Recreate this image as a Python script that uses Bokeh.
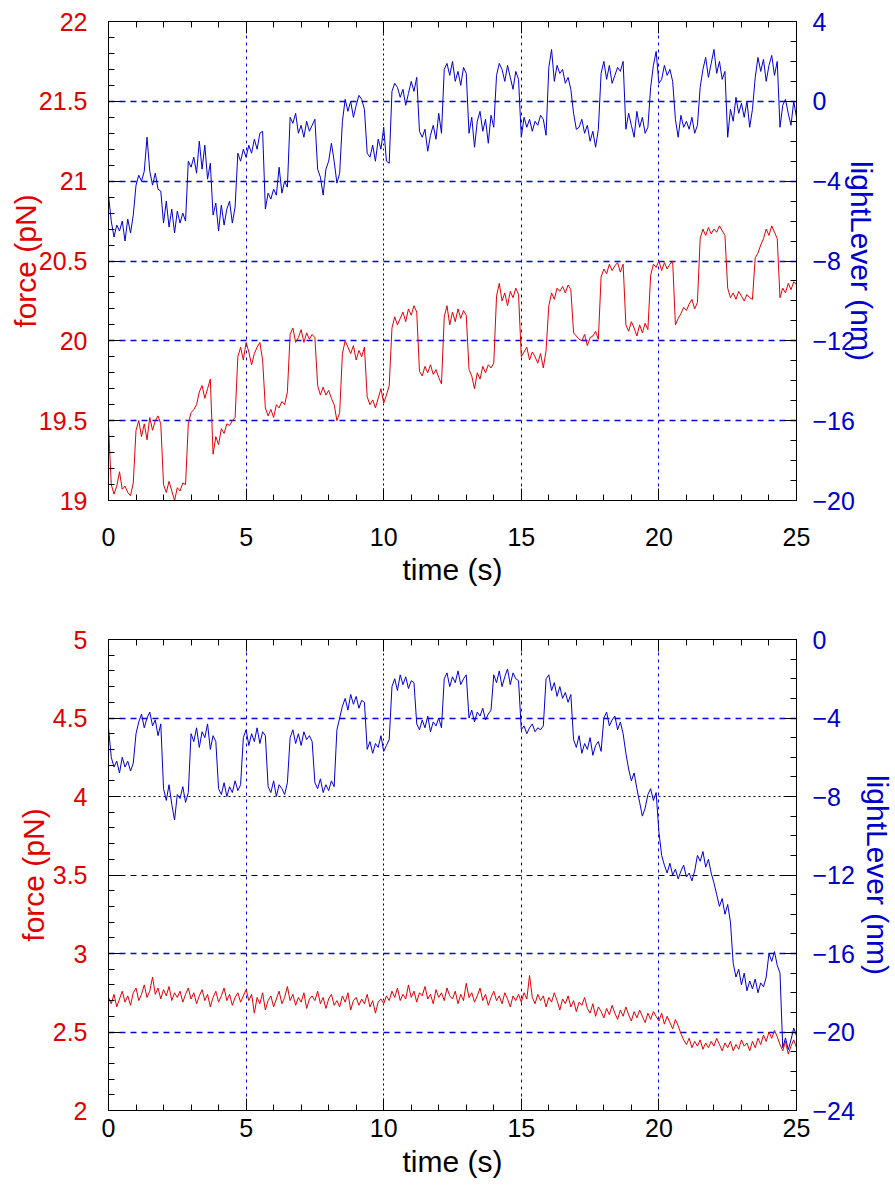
from bokeh.plotting import figure
from bokeh.models import (Range1d, LinearAxis, SingleIntervalTicker, FixedTicker,
                          Grid, CustomJSTickFormatter)
from bokeh.layouts import column
from bokeh.embed import file_html
from bokeh.resources import INLINE

# ---------------- data (sampled every 0.1 s) ----------------
SAMPLE_DT = 0.1

top_light = [
    -4.7, -6.0, -6.8, -6.2, -6.5, -6.0, -7.0, -5.9, -6.6, -5.7,
    -4.2, -3.7, -4.0, -3.5, -1.8, -3.5, -4.2, -3.6, -4.4, -4.5,
    -6.1, -5.0, -6.3, -5.4, -6.6, -5.5, -6.1, -5.6, -6.0,
    -3.0, -3.3, -2.8, -3.6, -2.0, -3.4, -2.2, -3.9, -3.1,
    -5.7, -5.1, -6.5, -5.2, -6.2, -5.4, -5.0, -6.1, -5.3,
    -2.6, -3.0, -2.4, -2.8, -2.2, -2.6, -1.9, -2.4, -1.6, -1.5,
    -5.4, -4.6, -4.9, -4.4, -4.7, -3.3, -4.6, -4.0, -4.3,
    -0.8, -1.1, -0.6, -1.6, -1.2, -1.8, -1.0, -1.5, -1.2, -0.9,
    -3.4, -3.8, -4.7, -3.4, -3.0, -2.1, -3.0, -4.1, -3.6,
    -1.0, 0.1, -0.5, 0.0, -0.8, -0.2, 0.3, 0.1, -0.4,
    -2.6, -2.8, -2.2, -3.0, -1.9, -2.4, -1.3, -3.0, -3.1,
    0.5, 0.9, 0.7, 0.2, 0.6, -0.2, 0.4, 1.0, 0.5, 1.2,
    -1.5, -1.8, -1.4, -2.5, -1.7, -1.2, -1.9, -0.6, -1.6,
    1.6, 1.9, 1.3, 2.0, 1.0, 1.5, 0.8, 1.7, 1.4,
    -1.6, -0.8, -2.3, -1.0, -0.5, -1.5, -0.9, -2.1, -0.7, -1.3,
    1.3, 1.9, 1.6, 1.0, 1.8, 1.2, 0.6, 1.5, 1.1,
    -1.8, -0.8, -1.3, -0.9, -1.5, -1.0, -1.2, -0.7, -0.9, -1.7,
    1.7, 2.6, 1.0, 1.8, 1.4, 1.6, 0.9, 1.2, 0.6,
    -0.6, -1.4, -1.3, -0.9, -1.6, -1.2, -2.0, -1.5, -2.3, -1.4,
    1.4, 2.0, 1.1, 1.8, 0.9, 1.3, 1.7, 1.5, 2.0,
    -1.4, -0.6, -1.2, -1.8, -0.5, -1.3, -0.8, -1.6, -1.3,
    0.7, 1.8, 2.5, 0.9, 1.1, 1.8, 1.3, 1.6, 1.0,
    -0.9, -1.8, -0.7, -1.3, -1.0, -1.4, -0.8, -1.6, -1.2,
    0.7, 1.6, 2.2, 1.2, 1.9, 2.6, 1.4, 2.0, 1.1, 1.5,
    -1.8, -0.4, -1.0, 0.2, -0.6, -0.1, -0.8, 0.0, -1.3, -0.4,
    1.2, 2.2, 1.5, 2.1, 1.0, 1.8, 2.3, 1.3, 2.0,
    -1.3, -0.2, 0.1, -0.6, -1.2, 0.0, -0.8,
]

top_force = [
    19.47, 19.10, 19.04, 19.09, 19.18, 19.07, 19.09, 19.05, 19.03, 19.11,
    19.44, 19.50, 19.40, 19.48, 19.38, 19.52, 19.44, 19.50, 19.53, 19.48,
    19.10, 19.05, 19.12, 19.06, 19.00, 19.08, 19.06, 19.11, 19.10,
    19.48, 19.55, 19.57, 19.60, 19.68, 19.72, 19.64, 19.70, 19.76,
    19.29, 19.40, 19.35, 19.45, 19.42, 19.48, 19.47, 19.50, 19.52,
    19.90, 19.96, 19.88, 19.99, 19.93, 19.85, 19.92, 19.96, 19.99, 19.88,
    19.58, 19.53, 19.57, 19.52, 19.60, 19.58, 19.62, 19.60, 19.68,
    20.04, 20.08, 19.99, 20.02, 20.07, 19.99, 20.05, 20.01, 20.04, 20.02,
    19.72, 19.66, 19.71, 19.66, 19.69, 19.64, 19.60, 19.50, 19.55,
    19.92, 20.00, 19.96, 19.92, 19.97, 19.88, 19.94, 19.90, 19.96,
    19.65, 19.60, 19.63, 19.58, 19.64, 19.70, 19.61, 19.66, 19.72,
    20.08, 20.15, 20.10, 20.14, 20.18, 20.12, 20.20, 20.16, 20.22, 20.18,
    19.81, 19.78, 19.84, 19.80, 19.85, 19.79, 19.82, 19.77, 19.73,
    20.15, 20.22, 20.10, 20.18, 20.12, 20.20, 20.14, 20.19, 20.16,
    19.82, 19.78, 19.70, 19.80, 19.76, 19.84, 19.80, 19.85, 19.83, 19.86,
    20.28, 20.36, 20.25, 20.30, 20.22, 20.31, 20.27, 20.33, 20.29,
    19.90, 19.93, 19.96, 19.88, 19.93, 19.90, 19.86, 19.92, 19.83, 19.94,
    20.22, 20.30, 20.26, 20.33, 20.31, 20.34, 20.30, 20.35, 20.32,
    20.05, 20.03, 20.01, 20.00, 20.04, 19.97, 20.02, 20.03, 20.06, 20.01,
    20.40, 20.45, 20.42, 20.48, 20.44, 20.47, 20.49, 20.43, 20.48,
    20.10, 20.06, 20.12, 20.08, 20.03, 20.10, 20.05, 20.11, 20.07,
    20.41, 20.48, 20.46, 20.50, 20.44, 20.49, 20.45, 20.48, 20.50,
    20.10, 20.14, 20.17, 20.21, 20.19, 20.23, 20.26, 20.20, 20.24,
    20.64, 20.70, 20.66, 20.71, 20.67, 20.70, 20.68, 20.72, 20.69, 20.66,
    20.33, 20.27, 20.30, 20.26, 20.31, 20.28, 20.25, 20.29, 20.27, 20.26,
    20.52, 20.55, 20.60, 20.64, 20.70, 20.66, 20.72, 20.68, 20.64,
    20.27, 20.33, 20.30, 20.36, 20.32, 20.37, 20.35,
]

bottom_light = [
    -4.5, -6.0, -6.5, -6.2, -6.8, -6.0, -6.5, -6.2, -6.7, -6.3,
    -4.8, -4.2, -3.8, -4.5, -4.0, -3.7, -4.4, -4.1, -4.9, -4.3,
    -7.6, -8.2, -7.4, -8.4, -9.2, -7.9, -8.1, -7.5, -8.3, -7.8,
    -4.8, -5.2, -4.5, -5.5, -4.7, -5.0, -4.3, -5.6, -4.9, -5.2,
    -7.6, -7.9, -7.3, -8.0, -7.5, -7.8, -7.2, -7.7, -7.4,
    -5.0, -4.6, -5.4, -4.8, -5.2, -4.5, -5.3, -4.7, -4.9,
    -7.5, -7.8, -7.2, -8.0, -7.4, -7.6, -7.9, -7.3,
    -5.0, -4.6, -5.3, -4.8, -5.4, -4.7, -5.1, -4.9, -5.2,
    -7.3, -7.6, -7.1, -7.8, -7.4, -7.7, -7.2, -7.5,
    -4.6, -4.0, -3.4, -3.0, -3.6, -2.8, -3.3, -2.9, -3.5, -3.1, -3.2,
    -5.6, -5.2, -5.8, -5.3, -5.5, -4.9, -5.7, -5.4, -5.1,
    -2.4, -2.0, -2.6, -1.8, -2.3, -1.9, -2.5, -2.1, -2.2,
    -4.3, -4.6, -4.1, -4.5, -3.9, -4.7, -4.2, -4.4, -4.0, -4.5,
    -2.0, -1.7, -2.4, -1.9, -2.2, -1.6, -2.3, -2.0, -1.8,
    -4.0, -3.6, -4.2, -3.7, -3.9, -3.5, -4.1, -3.8, -3.6,
    -1.8, -2.2, -1.6, -2.4, -1.9, -1.5, -2.3, -1.7, -2.0, -2.1,
    -4.6, -4.4, -4.8, -4.5, -4.3, -4.7, -4.5, -4.6, -4.4,
    -2.0, -1.8, -2.6, -2.2, -2.9, -2.4, -3.0, -2.7, -3.2, -2.8,
    -5.1, -5.5, -4.9, -5.8, -5.3, -5.6, -5.0, -5.9, -5.4, -5.2, -5.7,
    -4.0, -3.7, -4.4, -4.1, -3.9, -4.6, -4.2, -4.8,
    -5.8, -6.6, -7.2, -6.8, -7.6, -8.3, -9.0, -8.6, -7.9, -7.6, -8.2, -7.8,
    -9.8, -11.0, -11.5, -11.9, -11.4, -12.0, -11.7, -12.2, -11.8, -11.5, -12.1, -11.9, -12.3, -11.8,
    -11.0, -11.3, -10.8, -11.6, -11.2, -11.9, -12.4,
    -13.0, -13.6, -13.2, -14.0, -13.5, -14.4,
    -16.5, -17.2, -16.8, -17.6, -17.0, -17.9, -17.4, -17.8, -17.3, -18.0, -17.5, -17.7, -17.2,
    -16.0, -16.4, -15.9, -16.6, -17.0,
    -20.8, -20.3, -20.9, -20.4, -19.8, -20.2,
]

bottom_force = [
    2.72, 2.68, 2.74, 2.66, 2.71, 2.76, 2.69, 2.73, 2.67, 2.75, 2.78, 2.70, 2.74,
    2.80, 2.72, 2.76, 2.85, 2.74, 2.78, 2.71, 2.77, 2.73, 2.79, 2.70, 2.75,
    2.72, 2.76, 2.69, 2.74, 2.78, 2.71, 2.75, 2.68, 2.73, 2.77, 2.70, 2.74, 2.66,
    2.72, 2.76, 2.69, 2.73, 2.78, 2.70, 2.74, 2.67, 2.72, 2.75, 2.69, 2.73,
    2.77, 2.70, 2.74, 2.62, 2.72, 2.68, 2.75, 2.64, 2.70, 2.73, 2.66, 2.71, 2.76,
    2.68, 2.72, 2.79, 2.70, 2.74, 2.67, 2.72, 2.69, 2.75, 2.65, 2.71, 2.73,
    2.70, 2.76, 2.68, 2.72, 2.65, 2.71, 2.74, 2.67, 2.70, 2.66, 2.73, 2.69, 2.75,
    2.64, 2.70, 2.72, 2.67, 2.71, 2.68, 2.74, 2.66, 2.70, 2.62, 2.69, 2.71,
    2.68, 2.73, 2.70, 2.76, 2.72, 2.78, 2.70, 2.74, 2.71, 2.80, 2.72, 2.76, 2.69,
    2.75, 2.73, 2.79, 2.71, 2.74, 2.68, 2.77, 2.72, 2.75, 2.70, 2.78, 2.73,
    2.71, 2.76, 2.68, 2.74, 2.70, 2.81, 2.72, 2.75, 2.69, 2.73, 2.78, 2.70, 2.74,
    2.67, 2.72, 2.76, 2.70, 2.73, 2.68, 2.75, 2.71, 2.66, 2.73, 2.70, 2.74,
    2.69, 2.75, 2.71, 2.86, 2.72, 2.68, 2.74, 2.70, 2.73, 2.66, 2.72, 2.69, 2.75,
    2.70, 2.64, 2.71, 2.68, 2.73, 2.66, 2.70, 2.63, 2.69, 2.67, 2.72, 2.65,
    2.62, 2.68, 2.60, 2.66, 2.63, 2.59, 2.65, 2.61, 2.67, 2.62, 2.58, 2.64, 2.60,
    2.66, 2.61, 2.57, 2.63, 2.59, 2.64, 2.60, 2.56, 2.62, 2.58, 2.63, 2.60,
    2.57, 2.62, 2.55, 2.60, 2.56, 2.52, 2.58, 2.54, 2.49, 2.45, 2.42, 2.46, 2.40,
    2.44, 2.41, 2.45, 2.39, 2.43, 2.40, 2.44, 2.41, 2.46, 2.42, 2.38, 2.43,
    2.40, 2.44, 2.38, 2.42, 2.39, 2.45, 2.41, 2.43, 2.38, 2.44, 2.40, 2.46, 2.42,
    2.48, 2.44, 2.50, 2.46, 2.51, 2.47, 2.42, 2.38, 2.44, 2.36, 2.41, 2.45,
    2.40,
]

# ---------------- styling ----------------
RED = "#e00000"
BLUE = "#0000cc"
GRID_BLUE = "#0000e0"
FONT = "Liberation Sans"
TICK_FS = "25px"
TITLE_FS = "30px"


def times(series):
    return [round(i * SAMPLE_DT, 3) for i in range(len(series))]


def style_axis(ax, color, standoff, title_standoff):
    ax.axis_line_color = "black"
    ax.major_tick_line_color = "black"
    ax.minor_tick_line_color = "black"
    ax.major_tick_in = 12
    ax.major_tick_out = 0
    ax.minor_tick_in = 6
    ax.minor_tick_out = 0
    ax.major_label_text_color = color
    ax.major_label_text_font = FONT
    ax.major_label_text_font_size = TICK_FS
    ax.major_label_standoff = standoff
    ax.axis_label_text_color = color
    ax.axis_label_text_font = FONT
    ax.axis_label_text_font_size = TITLE_FS
    ax.axis_label_text_font_style = "normal"
    ax.axis_label_standoff = title_standoff


def make_panel(force, light, f_range, l_range, height, border_top, border_bottom,
               frame_h, x_std, x_title_std, l_title_std, r_title_std, hgrid_blue,
               hgrid_black_dash, hgrid_black_dot, vgrid_blue, vgrid_black):
    p = figure(width=895, height=height, frame_width=688, frame_height=frame_h,
               x_range=Range1d(0, 25), y_range=Range1d(*f_range),
               output_backend="svg", toolbar_location=None,
               min_border_left=108, min_border_right=99,
               min_border_top=border_top, min_border_bottom=border_bottom,
               x_axis_location=None, y_axis_location=None)
    p.extra_y_ranges = {"ll": Range1d(*l_range)}
    p.xgrid.visible = False
    p.ygrid.visible = False
    p.outline_line_color = "black"
    p.background_fill_color = "white"
    p.border_fill_color = "white"

    xb = LinearAxis(ticker=SingleIntervalTicker(interval=5, num_minor_ticks=5),
                    axis_label="time (s)")
    style_axis(xb, "black", x_std, x_title_std)
    p.add_layout(xb, "below")

    xt = LinearAxis(ticker=SingleIntervalTicker(interval=5, num_minor_ticks=5),
                    formatter=CustomJSTickFormatter(code="return ''"))
    style_axis(xt, "black", 0, 0)
    xt.major_label_text_font_size = "1px"
    p.add_layout(xt, "above")

    yl = LinearAxis(ticker=SingleIntervalTicker(interval=0.5, num_minor_ticks=5),
                    axis_label="force (pN)")
    style_axis(yl, RED, 21, l_title_std)
    p.add_layout(yl, "left")

    yr = LinearAxis(y_range_name="ll",
                    ticker=SingleIntervalTicker(interval=4, num_minor_ticks=4),
                    axis_label="lightLever (nm)")
    style_axis(yr, BLUE, 16, r_title_std)
    p.add_layout(yr, "right")

    for ticks, col, dash, w in ((hgrid_blue, GRID_BLUE, "6 5", 1.6),
                                (hgrid_black_dash, "black", "6 5", 1.2),
                                (hgrid_black_dot, "black", "2 3", 1)):
        if ticks:
            g = Grid(dimension=1, ticker=FixedTicker(ticks=ticks),
                     grid_line_color=col, grid_line_dash=dash, grid_line_width=w)
            p.add_layout(g)
    for ticks, col, dash in ((vgrid_blue, GRID_BLUE, "3 4"), (vgrid_black, "black", "2 3")):
        if ticks:
            g = Grid(dimension=0, ticker=FixedTicker(ticks=ticks),
                     grid_line_color=col, grid_line_dash=dash, grid_line_width=1)
            p.add_layout(g)

    p.line(times(light), light, color=BLUE, line_width=1, y_range_name="ll")
    p.line(times(force), force, color=RED, line_width=1)
    return p


p1 = make_panel(top_force, top_light, (19, 22), (-20, 4), height=600,
                border_top=21, border_bottom=100, frame_h=479,
                x_std=27, x_title_std=4, l_title_std=-6, r_title_std=-13,
                hgrid_blue=[19.5, 20, 20.5, 21, 21.5], hgrid_black_dash=[],
                hgrid_black_dot=[], vgrid_blue=[5, 15, 20], vgrid_black=[10])
p2 = make_panel(bottom_force, bottom_light, (2, 5), (-24, 0), height=589,
                border_top=39, border_bottom=79, frame_h=471,
                x_std=8, x_title_std=5, l_title_std=0, r_title_std=3,
                hgrid_blue=[2.5, 3, 4.5], hgrid_black_dash=[3.5],
                hgrid_black_dot=[4], vgrid_blue=[5, 15, 20], vgrid_black=[10])

layout = column(p1, p2, spacing=0)
open("out.html", "w").write(file_html(layout, INLINE))
